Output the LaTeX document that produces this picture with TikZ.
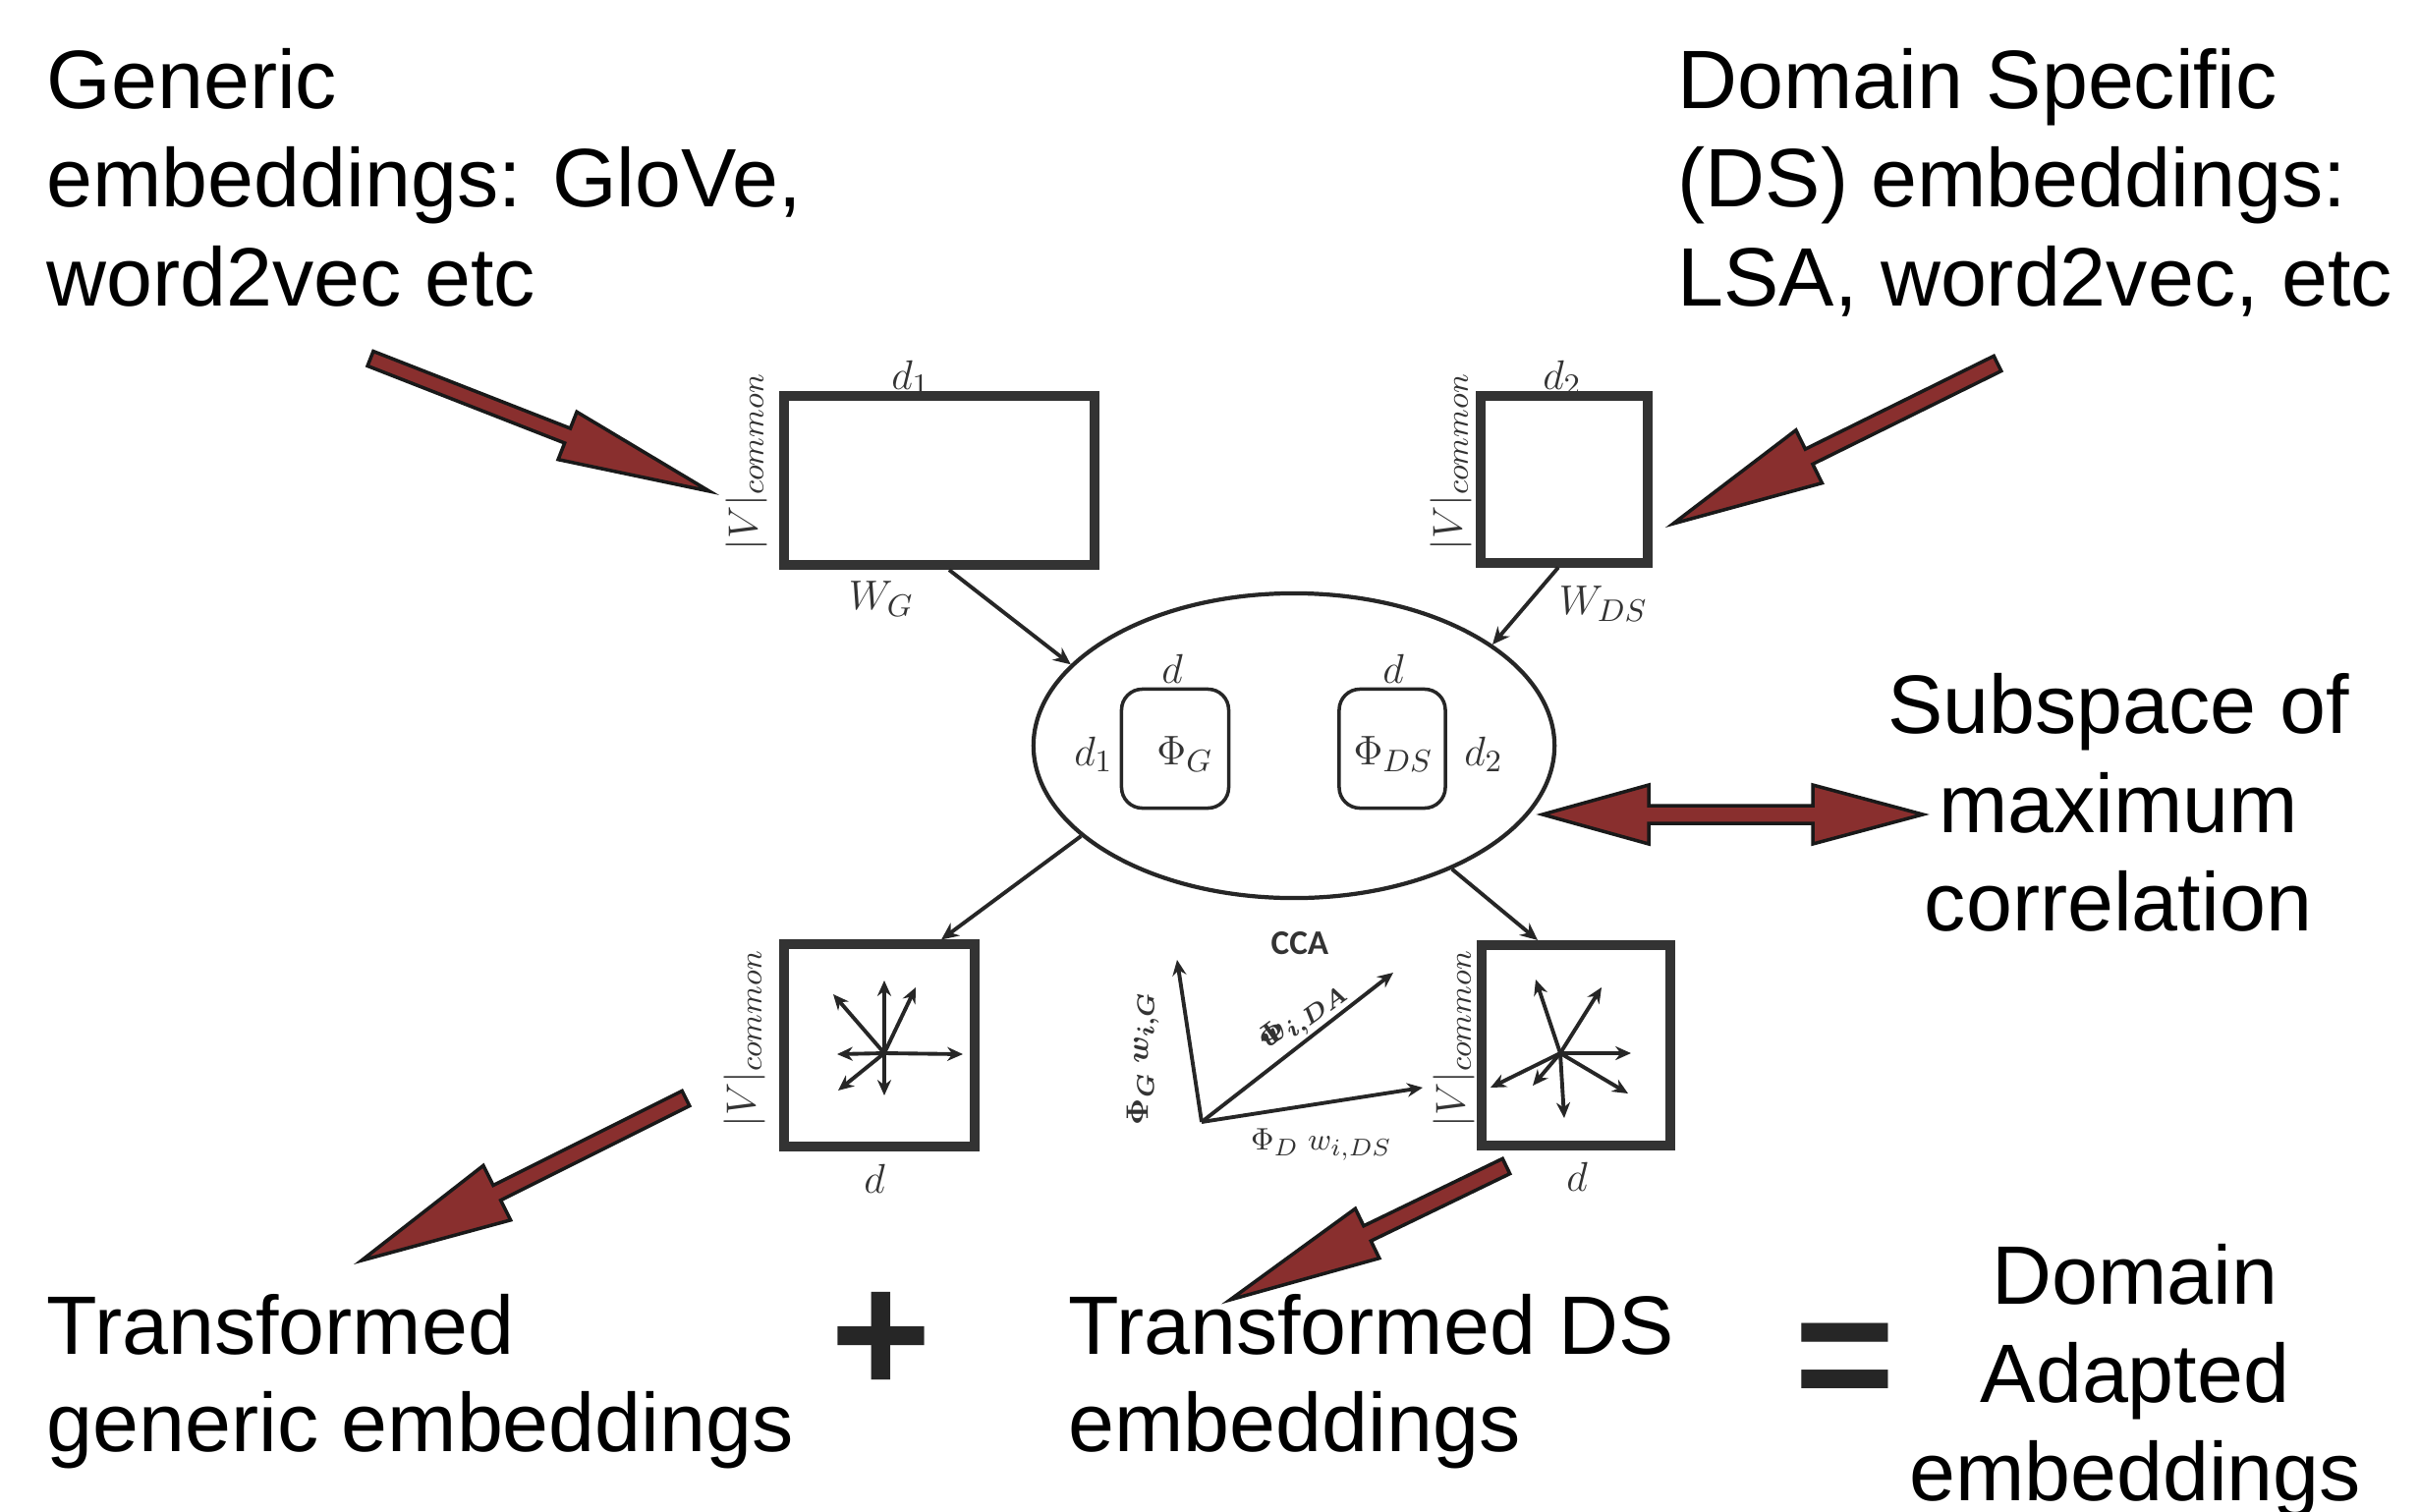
\documentclass[tikz,border=0pt]{standalone}
\usepackage{fontspec}
\usepackage{bm}
\setmainfont{Liberation Sans}
\newfontfamily\calibri{Carlito}
\usetikzlibrary{calc,shapes.geometric,arrows.meta}
\definecolor{arrred}{RGB}{137,47,46}
\definecolor{boxgray}{RGB}{51,51,51}
% tail, tip, shaft half width, head half width, head length
\newcommand\blockarrow[5]{%
  \coordinate (ba-h) at ($(#2)!#5!(#1)$);
  \draw[redarrow] ($(#1)!#3!90:(#2)$) -- ($(ba-h)!#3!90:(#2)$) -- ($(ba-h)!#4!90:(#2)$) -- (#2)
     -- ($(ba-h)!#4!-90:(#2)$) -- ($(ba-h)!#3!-90:(#2)$) -- ($(#1)!#3!-90:(#2)$) -- cycle;
}
\begin{document}
\begin{tikzpicture}[x=0.01cm,y=-0.01cm,
  bigtext/.style={font=\fontsize{24}{28}\selectfont, inner sep=0pt, anchor=base west},
  bigtextc/.style={font=\fontsize{24}{28}\selectfont, inner sep=0pt, anchor=base},
  lbl/.style={font=\fontsize{12.5}{14}\selectfont, inner sep=0pt, text=black!80},
  small/.style={font=\fontsize{9.5}{11}\selectfont, inner sep=0pt, text=black!80},
  matbox/.style={draw=boxgray, line width=2.85pt, fill=white, inner sep=0pt},
  inbox/.style={draw=black!85, line width=1pt, rounded corners=6pt, inner sep=0pt},
  conn/.style={draw=black!85, line width=1.1pt, -{Stealth[length=5pt,width=4.5pt]}},
  vec/.style={draw=black!85, line width=1.1pt, -{Stealth[length=4.5pt,width=4pt]}},
  redarrow/.style={fill=arrred, draw=black!90, line width=1pt, line join=miter},
  sym/.style={font=\fontsize{50}{50}\selectfont\bfseries, inner sep=0pt, text=black!85}]
\useasboundingbox (0,0) rectangle (2462,1539);
\fill[white] (0,0) rectangle (2462,1539);

% ---- big texts ----
\node[bigtext] (g1) at (47,110) {Generic};
\node[bigtext] (g2) at (47,210) {embeddings: GloVe,};
\node[bigtext] (g3) at (47,311) {word2vec etc};
\node[bigtext] (ds1) at (1707,110) {Domain Specific};
\node[bigtext] (ds2) at (1707,210) {(DS) embeddings:};
\node[bigtext] (ds3) at (1707,311) {LSA, word2vec, etc};
\node[bigtextc] (sp1) at (2156,746) {Subspace of};
\node[bigtextc] (sp2) at (2156,847) {maximum};
\node[bigtextc] (sp3) at (2156,947) {correlation};
\node[bigtext] (tg1) at (47,1378) {Transformed};
\node[bigtext] (tg2) at (47,1477) {generic embeddings};
\node[bigtext] (td1) at (1087,1378) {Transformed DS};
\node[bigtext] (td2) at (1087,1477) {embeddings};
\node[bigtextc] (da1) at (2173,1327) {Domain};
\node[bigtextc] (da2) at (2173,1427) {Adapted};
\node[bigtextc] (da3) at (2173,1527) {embeddings};
\node[sym] (plus) at (897,1367) {+};
\node[sym] (eq) at (1878,1393) {=};

% ---- matrices ----
\node[lbl] (lwg) at (927,385) {$d_1$};
\node[lbl] (lwds) at (1590,385) {$d_2$};
\node[matbox, minimum width=3.16cm, minimum height=1.72cm] (wg) at (956,489) {};
\node[matbox, minimum width=1.69cm, minimum height=1.69cm] (wds) at (1592,488) {};
\node[lbl, rotate=90] (vg) at (760,470) {$|V|_{common}$};
\node[lbl, rotate=90] (vds) at (1477,470) {$|V|_{common}$};
\node[lbl] (wglab) at (897,610) {$W_G$};
\node[lbl] (wdslab) at (1632,615) {$W_{DS}$};

% ---- ellipse ----
\node[draw=black!85, line width=1.2pt, ellipse, minimum width=5.3cm, minimum height=3.1cm, inner sep=0pt] (ell) at (1317,759) {};
\node[inbox, minimum width=1.09cm, minimum height=1.21cm] (phig) at (1196,762) {};
\node[inbox, minimum width=1.08cm, minimum height=1.21cm] (phids) at (1417,762) {};
\node[lbl] at (1206,768) {$\Phi_G$};
\node[lbl] at (1418,768) {$\Phi_{DS}$};
\node[lbl] at (1193,681) {$d$};
\node[lbl] at (1418,681) {$d$};
\node[lbl] at (1113,768) {$d_1$};
\node[lbl] at (1510,768) {$d_2$};

% ---- bottom matrices ----
\node[matbox, minimum width=1.93cm, minimum height=2.05cm] (bl) at (895,1064) {};
\node[matbox, minimum width=1.92cm, minimum height=2.04cm] (br) at (1604,1064) {};
\node[lbl, rotate=90] at (758,1057) {$|V|_{common}$};
\node[lbl, rotate=90] at (1480,1057) {$|V|_{common}$};
\node[lbl] at (890,1200) {$d$};
\node[lbl] at (1605,1198) {$d$};

% ---- connectors ----
\draw[conn] ($(wg.south)+(10,0)$) -- (ell.160);
\draw[conn] ($(wds.south)+(-6,0)$) -- (ell.27);
\draw[conn] (ell.203) -- ($(bl.north)+(63,0)$);
\draw[conn] (ell.322) -- ($(br.north)+(-39,0)$);

% ---- star vectors ----
\coordinate (c1) at (900,1072);
\draw[vec] (c1) -- ++(0,-74);
\draw[vec] (c1) -- ++(0,43);
\draw[vec] (c1) -- ++(80,1);
\draw[vec] (c1) -- ++(-48,1);
\draw[vec] (c1) -- ++(-52,-60);
\draw[vec] (c1) -- ++(32,-67);
\draw[vec] (c1) -- ++(-47,38);
\coordinate (c2) at (1588,1072);
\draw[vec] (c2) -- ++(-25,-75);
\draw[vec] (c2) -- ++(42,-67);
\draw[vec] (c2) -- ++(72,0);
\draw[vec] (c2) -- ++(69,41);
\draw[vec] (c2) -- ++(4,66);
\draw[vec] (c2) -- ++(-71,35);
\draw[vec] (c2) -- ++(-28,33);

% ---- CCA diagram ----
\node[font=\calibri\bfseries\fontsize{10}{12}\selectfont, text=black!80, inner sep=0pt] (cca) at (1323,960) {CCA};
\coordinate (o) at (1223,1142);
\draw[vec] (o) -- (1198,977);
\draw[vec] (o) -- (1418,990);
\draw[vec] (o) -- (1448,1107);
\node[small, rotate=90] at (1163,1077) {$\bm{\Phi_G\; w_{i,G}}$};
\node[small, rotate=36] at (1327,1035) {\rlap{$\bm{\Phi}$}$\bm{w_{i,DA}}$};
\node[small] at (1345,1165) {$\Phi_D\; w_{i,DS}$};

% ---- red block arrows ----
\coordinate (a1t) at (377,365); \coordinate (a1h) at (722,500);
\coordinate (a2t) at (2033,370); \coordinate (a2h) at (1703,533);
\coordinate (a3t) at (698,1118); \coordinate (a3h) at (368,1283);
\coordinate (a4t) at (1533,1187); \coordinate (a4h) at (1252,1323);
\blockarrow{a1t}{a1h}{0.08cm}{0.26cm}{1.55cm}
\blockarrow{a2t}{a2h}{0.085cm}{0.30cm}{1.54cm}
\blockarrow{a3t}{a3h}{0.085cm}{0.31cm}{1.54cm}
\blockarrow{a4t}{a4h}{0.085cm}{0.28cm}{1.55cm}
% double arrow
\coordinate (dl) at (1570,829); \coordinate (dr) at (1957,829);
\draw[redarrow] (dl) -- (1678,799) -- (1678,820) -- (1845,820) -- (1845,799) -- (dr)
   -- (1845,859) -- (1845,838) -- (1678,838) -- (1678,859) -- cycle;
\end{tikzpicture}
\end{document}
